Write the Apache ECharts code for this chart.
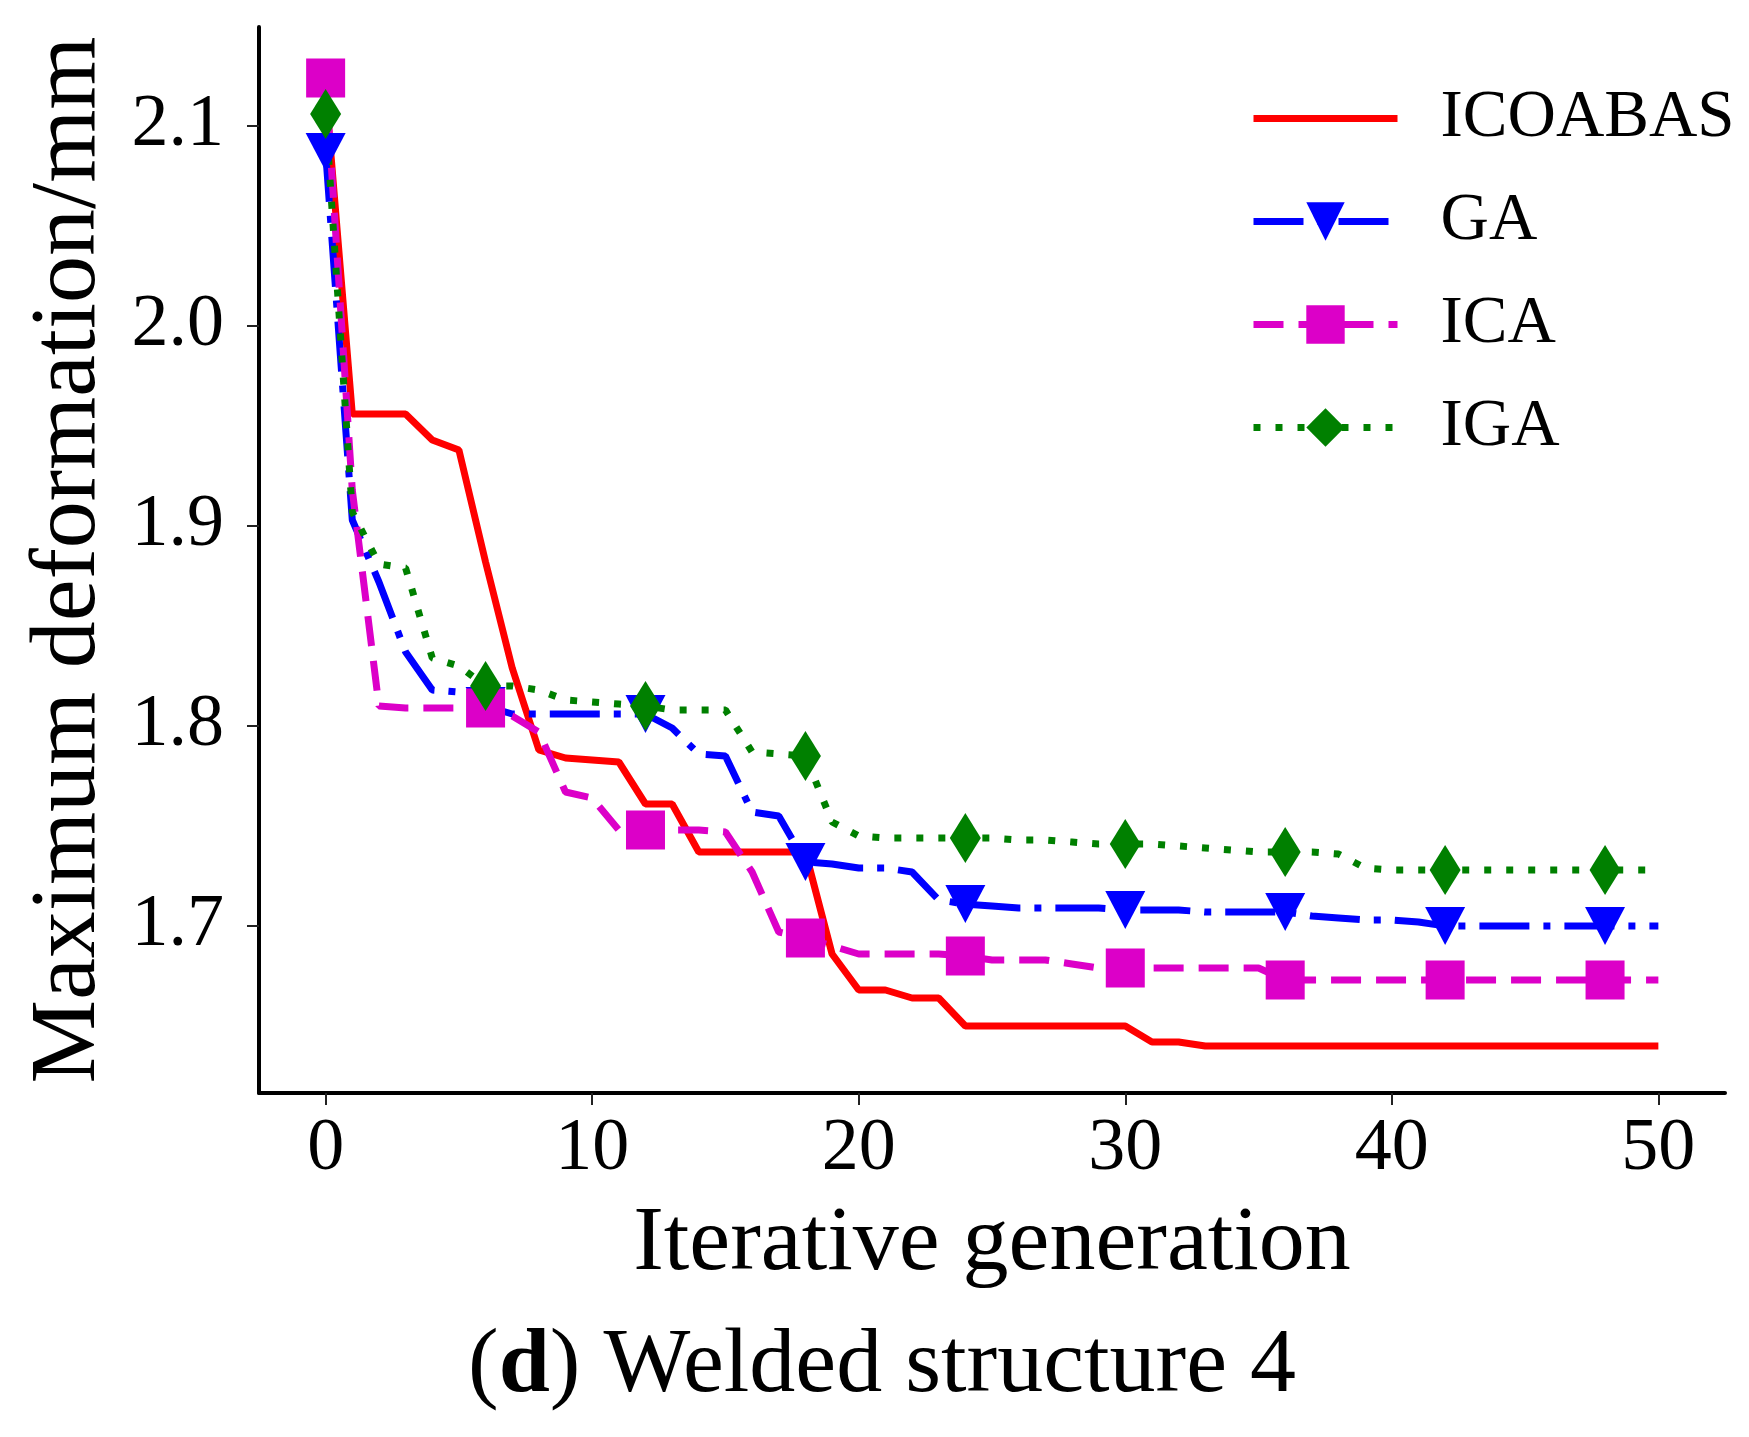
<!DOCTYPE html>
<html>
<head>
<meta charset="utf-8">
<script src="https://cdn.jsdelivr.net/npm/echarts@6/dist/echarts.min.js"></script>
<style>
html,body{margin:0;padding:0;background:#ffffff;}
#chart{width:1749px;height:1437px;}
</style>
</head>
<body>
<div id="chart"></div>
<script>
const iterations = [0,1,2,3,4,5,6,7,8,9,10,11,12,13,14,15,16,17,18,19,20,21,22,23,24,25,26,27,28,29,30,31,32,33,34,35,36,37,38,39,40,41,42,43,44,45,46,47,48,49,50];

const icoabas = [2.118,1.956,1.956,1.956,1.943,1.938,1.882,1.829,1.788,1.784,1.783,1.782,1.761,1.761,1.737,1.737,1.737,1.737,1.737,1.686,1.668,1.668,1.664,1.664,1.650,1.650,1.650,1.650,1.650,1.650,1.650,1.642,1.642,1.640,1.640,1.640,1.640,1.640,1.640,1.640,1.640,1.640,1.640,1.640,1.640,1.640,1.640,1.640,1.640,1.640,1.640];

const ga = [2.087,1.903,1.872,1.837,1.818,1.817,1.810,1.806,1.806,1.806,1.806,1.806,1.806,1.799,1.786,1.785,1.757,1.755,1.732,1.731,1.729,1.729,1.727,1.713,1.711,1.710,1.709,1.709,1.709,1.709,1.708,1.708,1.708,1.707,1.707,1.707,1.707,1.705,1.704,1.703,1.703,1.702,1.700,1.700,1.700,1.700,1.700,1.700,1.700,1.700,1.700];

const ica = [2.124,1.918,1.810,1.809,1.809,1.809,1.809,1.805,1.797,1.767,1.764,1.748,1.748,1.748,1.748,1.747,1.727,1.697,1.694,1.690,1.686,1.686,1.686,1.686,1.685,1.683,1.683,1.683,1.681,1.679,1.679,1.679,1.679,1.679,1.679,1.679,1.673,1.673,1.673,1.673,1.673,1.673,1.673,1.673,1.673,1.673,1.673,1.673,1.673,1.673,1.673];

const iga = [2.106,1.907,1.881,1.879,1.834,1.830,1.820,1.820,1.818,1.813,1.812,1.811,1.810,1.808,1.808,1.808,1.787,1.786,1.785,1.752,1.745,1.744,1.744,1.744,1.744,1.744,1.743,1.743,1.742,1.741,1.741,1.741,1.740,1.739,1.738,1.737,1.737,1.737,1.736,1.729,1.728,1.728,1.728,1.728,1.728,1.728,1.728,1.728,1.728,1.728,1.728];

const seriesNames = ['ICOABAS', 'GA', 'ICA', 'IGA'];
const xTicks = [0, 10, 20, 30, 40, 50];
const yTicks = [1.7, 1.8, 1.9, 2.0, 2.1];
const markerEvery = 6;

const FONT = '"Liberation Serif", "Times New Roman", serif';

function buildData(values, withMarkers) {
  return values.map(function (v, i) {
    if (withMarkers && iterations[i] % markerEvery === 0) {
      return [iterations[i], v];
    }
    return { value: [iterations[i], v], symbol: 'none' };
  });
}

const chart = echarts.init(document.getElementById('chart'), null, { renderer: 'canvas' });

const option = {
  animation: false,
  backgroundColor: '#ffffff',
  title: {
    text: '{p|(}{b|d}{p|) Welded structure 4}',
    left: 877,
    top: 1316,
    textAlign: 'center',
    textStyle: {
      fontWeight: 'normal',
      rich: {
        p: { fontFamily: FONT, fontSize: 92, color: '#000', fontWeight: 'normal', lineHeight: 92 },
        b: { fontFamily: FONT, fontSize: 92, color: '#000', fontWeight: 'bold', lineHeight: 92 }
      }
    }
  },
  legend: {
    orient: 'vertical',
    left: 1245,
    top: 80,
    itemWidth: 144,
    itemHeight: 48,
    itemGap: 36,
    selectedMode: false,
    lineStyle: { width: 7 },
    textStyle: {
      fontFamily: FONT,
      fontSize: 67,
      lineHeight: 66,
      color: '#000',
      padding: [0, 0, 0, 38]
    },
    data: [
      { name: seriesNames[0], itemStyle: { opacity: 0 } },
      seriesNames[1],
      seriesNames[2],
      seriesNames[3]
    ]
  },
  grid: {
    left: 259,
    right: 24,
    top: 27,
    bottom: 344,
    containLabel: false
  },
  xAxis: {
    type: 'value',
    min: -2.5,
    max: 52.5,
    name: 'Iterative generation',
    nameLocation: 'middle',
    nameGap: 106,
    nameTextStyle: { fontFamily: FONT, fontSize: 92, color: '#000', lineHeight: 92 },
    splitLine: { show: false },
    axisLine: { onZero: false, lineStyle: { color: '#000', width: 4 } },
    axisTick: { show: true, length: 12, customValues: xTicks, lineStyle: { color: '#222', width: 2 } },
    axisLabel: {
      customValues: xTicks,
      margin: 20,
      fontFamily: FONT,
      fontSize: 74,
      lineHeight: 74,
      color: '#000'
    }
  },
  yAxis: {
    type: 'value',
    min: 1.6165,
    max: 2.1495,
    name: 'Maximum deformation/mm',
    nameLocation: 'middle',
    nameGap: 143,
    nameTextStyle: { fontFamily: FONT, fontSize: 94, color: '#000', lineHeight: 94 },
    splitLine: { show: false },
    axisLine: { onZero: false, lineStyle: { color: '#000', width: 4 } },
    axisTick: { show: true, length: 12, customValues: yTicks, lineStyle: { color: '#222', width: 2 } },
    axisLabel: {
      customValues: yTicks,
      margin: 35,
      fontFamily: FONT,
      fontSize: 74,
      lineHeight: 74,
      color: '#000',
      formatter: function (v) { return Number(v).toFixed(1); }
    }
  },
  series: [
    {
      name: seriesNames[0],
      type: 'line',
      data: buildData(icoabas, false),
      symbol: 'none',
      showSymbol: false,
      color: '#FF0000',
      lineStyle: { color: '#FF0000', width: 7, type: 'solid' },
      emphasis: { disabled: true }
    },
    {
      name: seriesNames[1],
      type: 'line',
      data: buildData(ga, true),
      symbol: 'triangle',
      symbolSize: [40, 38],
      symbolRotate: 180,
      showSymbol: true,
      color: '#0000FF',
      itemStyle: { color: '#0000FF' },
      lineStyle: { color: '#0000FF', width: 7, type: [50, 14, 7, 14] },
      emphasis: { disabled: true }
    },
    {
      name: seriesNames[2],
      type: 'line',
      data: buildData(ica, true),
      symbol: 'rect',
      symbolSize: 39,
      showSymbol: true,
      color: '#DC00C8',
      itemStyle: { color: '#DC00C8' },
      lineStyle: { color: '#DC00C8', width: 7, type: [30, 15] },
      emphasis: { disabled: true }
    },
    {
      name: seriesNames[3],
      type: 'line',
      data: buildData(iga, true),
      symbol: 'diamond',
      symbolSize: [31, 50],
      showSymbol: true,
      color: '#008000',
      itemStyle: { color: '#008000' },
      lineStyle: { color: '#008000', width: 7, type: [7, 15] },
      emphasis: { disabled: true }
    }
  ]
};

chart.setOption(option);
</script>
</body>
</html>
